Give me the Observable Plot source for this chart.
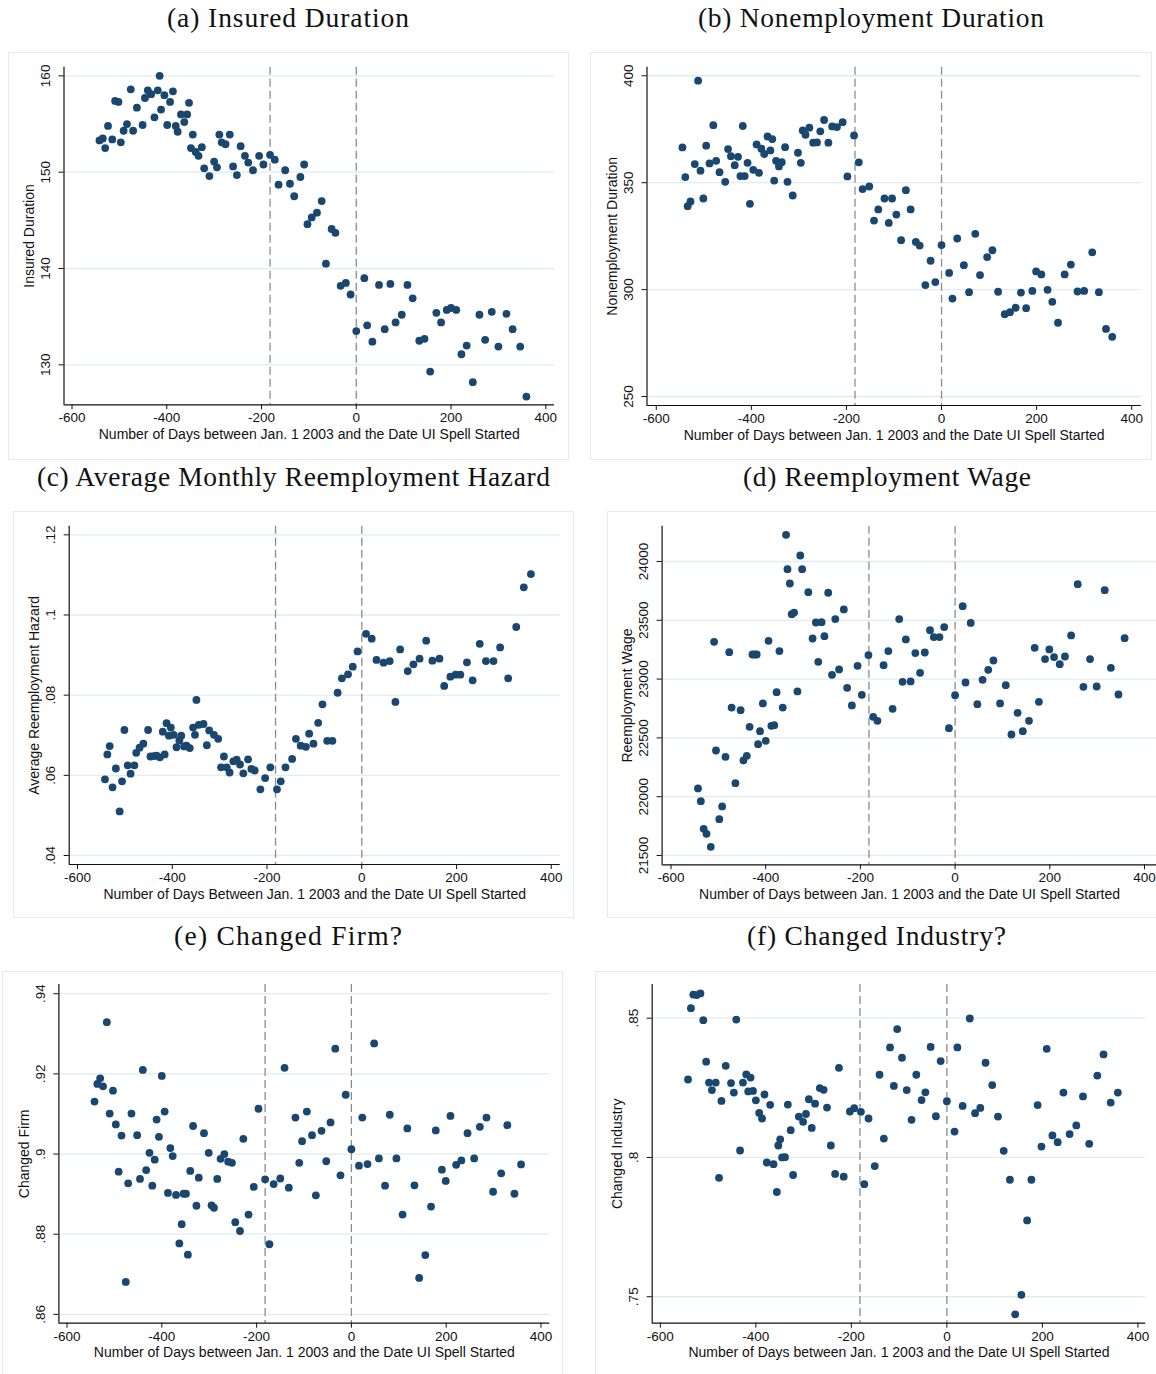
<!DOCTYPE html>
<html>
<head>
<meta charset="utf-8">
<script src="https://cdn.jsdelivr.net/npm/d3@7"></script>
<script src="https://cdn.jsdelivr.net/npm/@observablehq/plot@0.6"></script>
<style>
  body { margin: 0; background: #fff; }
  #root { position: relative; width: 1156px; height: 1374px; overflow: hidden; background: #fff; }
  .box { position: absolute; border: 1px solid #e3ebee; box-sizing: border-box; }
  .panel { position: absolute; }
  .panel svg { display: block; overflow: visible; max-width: none !important; }
  #titles { position: absolute; left: 0; top: 0; }
</style>
</head>
<body>
<div id="root"></div>
<script>
// ---------- data ----------
const xTicks = [-600, -400, -200, 0, 200, 400];
const cutoffs = [-182, 0];

const insuredDays = [-542,-535,-530,-524,-515,-509,-502,-497,-491,-484,-476,-471,-463,-451,-446,-440,-433,-426,-419,-415,-412,-405,-399,-393,-387,-381,-377,-370,-363,-357,-353,-349,-345,-339,-333,-326,-321,-310,-300,-294,-289,-284,-276,-267,-260,-252,-244,-235,-228,-218,-205,-196,-182,-172,-164,-150,-140,-131,-118,-110,-103,-94,-83,-73,-64,-52,-44,-33,-22,-12,0,17,23,34,48,60,72,83,96,108,119,133,144,156,169,179,191,200,211,222,233,246,260,272,286,300,317,330,346,359];
const insuredDuration = [153.3,153.5,152.5,154.8,153.4,157.4,157.3,153.1,154.3,155.0,158.6,154.3,156.7,154.9,157.7,158.5,158.1,155.7,158.5,160.0,156.5,158.0,154.9,157.3,158.4,154.8,154.2,156.0,155.2,156.0,157.2,152.5,153.9,152.1,151.7,152.6,150.4,149.6,151.1,150.5,153.9,153.1,152.9,153.9,150.6,149.7,152.7,151.7,151.0,150.2,151.7,150.8,151.8,151.3,148.7,150.2,148.8,147.5,149.5,150.8,144.6,145.3,145.8,147.0,140.5,144.1,143.7,138.2,138.5,137.3,133.5,139.0,134.1,132.4,138.3,133.7,138.4,134.4,135.2,138.3,136.9,132.5,132.7,129.3,135.4,134.4,135.7,135.9,135.7,131.1,132.0,128.2,135.2,132.6,135.5,131.9,135.3,133.7,131.9,126.7];
const insuredTicks = [130, 140, 150, 160];

const nonempDays = [-545,-539,-534,-528,-519,-512,-507,-501,-495,-488,-480,-474,-467,-455,-449,-443,-435,-428,-423,-418,-414,-408,-403,-396,-389,-384,-379,-373,-366,-360,-356,-352,-348,-342,-336,-329,-324,-313,-302,-296,-292,-286,-278,-270,-262,-255,-247,-238,-230,-220,-208,-198,-184,-174,-166,-152,-142,-133,-120,-111,-104,-95,-85,-75,-65,-54,-46,-34,-23,-13,0,16,23,33,47,58,71,81,96,107,119,133,144,156,167,178,191,199,210,223,233,245,259,272,286,300,317,331,346,359];
const nonempDuration = [366.5,352.6,339.0,341.2,358.7,397.7,355.6,342.6,367.3,359.0,376.9,360.2,354.9,350.4,365.7,362.4,358.2,362.1,353.1,376.5,353.1,359.3,340.1,356.0,367.9,354.6,365.9,363.4,371.6,365.1,370.4,351.0,360.2,357.6,359.6,366.6,350.4,344.0,364.0,359.3,374.4,372.4,375.7,368.7,368.8,374.0,379.3,368.7,376.3,376.0,378.3,352.9,372.1,359.5,347.0,348.2,332.3,337.5,342.6,331.2,342.6,335.1,323.1,346.5,337.5,322.3,320.6,302.1,313.5,303.5,320.8,307.8,295.8,323.9,311.4,298.8,326.1,306.8,315.2,318.4,299.0,288.5,289.4,291.5,298.6,291.3,299.4,308.5,307.1,299.9,294.3,284.5,307.1,311.7,299.1,299.4,317.4,298.8,281.6,277.9];
const nonempTicks = [250, 300, 350, 400];

const hazardDays = [-542,-537,-532,-526,-519,-511,-506,-501,-494,-488,-480,-476,-469,-461,-451,-446,-439,-433,-426,-420,-416,-412,-407,-403,-397,-391,-385,-381,-375,-370,-363,-356,-352,-349,-344,-334,-327,-322,-312,-303,-297,-291,-285,-279,-271,-264,-257,-250,-240,-233,-226,-214,-204,-193,-179,-171,-161,-147,-139,-129,-118,-111,-102,-92,-83,-73,-62,-51,-42,-29,-19,-9,9,21,31,46,59,71,81,97,109,122,136,149,164,174,187,198,208,222,234,249,262,278,292,309,326,342,357];
const hazardRate = [0.0590,0.0652,0.0673,0.0570,0.0617,0.0510,0.0585,0.0713,0.0625,0.0604,0.0625,0.0656,0.0669,0.0679,0.0713,0.0647,0.0648,0.0649,0.0645,0.0709,0.0652,0.0730,0.0699,0.0719,0.0701,0.0670,0.0687,0.0699,0.0672,0.0674,0.0668,0.0719,0.0701,0.0788,0.0726,0.0728,0.0675,0.0712,0.0701,0.0691,0.0620,0.0647,0.0620,0.0607,0.0635,0.0639,0.0627,0.0605,0.0640,0.0616,0.0612,0.0565,0.0593,0.0620,0.0565,0.0585,0.0620,0.0641,0.0691,0.0674,0.0671,0.0704,0.0679,0.0731,0.0777,0.0686,0.0686,0.0806,0.0842,0.0852,0.0871,0.0909,0.0953,0.0941,0.0888,0.0881,0.0885,0.0783,0.0914,0.0860,0.0877,0.0891,0.0936,0.0886,0.0891,0.0823,0.0846,0.0851,0.0851,0.0882,0.0837,0.0928,0.0885,0.0885,0.0919,0.0842,0.0970,0.1069,0.1102];
const hazardTicks = [0.04, 0.06, 0.08, 0.1, 0.12];

const wageDays = [-543,-537,-531,-525,-516,-509,-505,-498,-492,-485,-477,-472,-464,-453,-447,-440,-434,-428,-423,-419,-416,-412,-406,-400,-394,-388,-382,-377,-371,-364,-357,-354,-349,-345,-340,-333,-327,-323,-310,-301,-294,-289,-282,-276,-268,-260,-253,-245,-235,-228,-218,-206,-197,-183,-173,-164,-151,-141,-132,-118,-111,-104,-94,-84,-74,-64,-53,-45,-33,-23,-13,0,16,22,33,47,58,70,81,95,107,119,132,143,156,168,177,190,199,209,221,232,245,259,271,285,299,316,329,345,358];
const reemploymentWage = [22070,21962,21727,21684,21574,23317,22393,21809,21917,22339,23229,22758,22115,22736,22308,22348,22594,23209,23209,23209,22447,22557,22793,22475,23325,22603,22608,22889,23238,22758,24227,23935,23813,23552,23566,22895,24051,23935,23739,23345,23481,23147,23484,23365,23734,23036,23510,23082,23592,22926,22776,23113,22866,23204,22679,22645,23118,23238,22747,23510,22977,23337,22980,23221,23053,23226,23416,23357,23357,23442,22583,22863,23620,22971,23478,22787,22994,23079,23158,22793,22948,22529,22713,22557,22645,23266,22807,23170,23252,23187,23127,23192,23371,23807,22934,23170,22937,23756,23096,22869,23348];
const wageTicks = [21500, 22000, 22500, 23000, 23500, 24000];

const firmDays = [-542,-536,-530,-524,-516,-510,-503,-497,-491,-485,-476,-471,-464,-452,-446,-440,-433,-426,-420,-415,-411,-406,-400,-394,-387,-382,-377,-370,-363,-358,-354,-349,-345,-340,-334,-327,-322,-311,-301,-295,-290,-283,-276,-268,-260,-252,-245,-235,-228,-217,-206,-196,-182,-173,-164,-150,-141,-132,-118,-110,-104,-94,-83,-75,-63,-53,-44,-34,-23,-12,0,16,23,34,48,58,71,81,95,108,118,133,143,156,168,178,191,199,209,221,232,245,259,271,285,299,316,329,344,358];
const changedFirm = [0.9131,0.9175,0.9189,0.9169,0.9329,0.9101,0.9158,0.9074,0.8956,0.9046,0.8681,0.8927,0.9101,0.9047,0.8938,0.9210,0.8960,0.9003,0.8921,0.8986,0.9086,0.9043,0.9195,0.9106,0.8903,0.9015,0.8995,0.8898,0.8777,0.8825,0.8901,0.8901,0.8749,0.8958,0.9070,0.8871,0.8941,0.9052,0.9003,0.8872,0.8866,0.8938,0.8988,0.9000,0.8981,0.8978,0.8830,0.8808,0.9038,0.8849,0.8918,0.9113,0.8937,0.8775,0.8925,0.8939,0.9215,0.8916,0.9091,0.8978,0.9032,0.9106,0.9047,0.8897,0.9058,0.8982,0.9079,0.9263,0.8947,0.9148,0.9012,0.8971,0.9091,0.8975,0.9276,0.8989,0.8921,0.9098,0.8989,0.8849,0.9064,0.8922,0.8691,0.8748,0.8869,0.9059,0.8961,0.8933,0.9095,0.8973,0.8984,0.9052,0.8989,0.9068,0.9091,0.8906,0.8952,0.9072,0.8901,0.8974];
const firmTicks = [0.86, 0.88, 0.9, 0.92, 0.94];

const industryDays = [-542,-536,-531,-524,-516,-510,-504,-498,-492,-484,-477,-472,-463,-452,-446,-441,-433,-427,-420,-416,-411,-406,-400,-393,-387,-382,-377,-370,-363,-356,-353,-349,-345,-339,-333,-327,-322,-310,-301,-295,-289,-283,-276,-266,-258,-251,-243,-234,-226,-216,-203,-194,-180,-173,-164,-151,-141,-132,-119,-111,-104,-94,-84,-74,-64,-53,-45,-34,-23,-13,0,16,22,33,48,59,70,81,95,107,119,132,143,156,168,177,190,198,209,221,232,244,257,271,285,298,315,328,343,358];
const changedIndustry = [0.8280,0.8536,0.8585,0.8583,0.8589,0.8493,0.8344,0.8269,0.8242,0.8269,0.7927,0.8203,0.8329,0.8267,0.8233,0.8495,0.8025,0.8269,0.8298,0.8237,0.8287,0.8239,0.8205,0.8160,0.8140,0.8226,0.7982,0.8189,0.7976,0.7876,0.8043,0.8065,0.8000,0.8001,0.8190,0.8098,0.7937,0.8147,0.8128,0.8156,0.8209,0.8106,0.8193,0.8249,0.8243,0.8179,0.8043,0.7941,0.8322,0.7931,0.8165,0.8177,0.8164,0.7904,0.8140,0.7969,0.8297,0.8068,0.8395,0.8257,0.8461,0.8358,0.8242,0.8135,0.8297,0.8206,0.8234,0.8397,0.8148,0.8346,0.8202,0.8093,0.8395,0.8185,0.8499,0.8159,0.8178,0.8340,0.8260,0.8147,0.8024,0.7920,0.7437,0.7507,0.7774,0.7920,0.8188,0.8039,0.8390,0.8079,0.8055,0.8233,0.8084,0.8115,0.8219,0.8049,0.8294,0.8370,0.8197,0.8233];
const industryTicks = [0.75, 0.8, 0.85];

const xTitle = "Number of Days between Jan. 1 2003 and the Date UI Spell Started";
const xTitleC = "Number of Days Between Jan. 1 2003 and the Date UI Spell Started";

// ---------- layout ----------
const panels = [
  {title: "(a) Insured Duration", tc: 288, tb: 27, tw: 242,
   box: [8, 52, 569, 460], plot: [63.5, 66.7, 554, 404.3],
   xd: [-616.9, 418.4], yd: [125.85, 160.9],
   days: insuredDays, values: insuredDuration, yTicks: insuredTicks,
   yLabel: "Insured Duration", xLabel: xTitle},
  {title: "(b) Nonemployment Duration", tc: 871, tb: 27, tw: 346,
   box: [590, 52, 1152, 460], plot: [646.5, 66.7, 1140.8, 405],
   xd: [-619.5, 420.2], yd: [245.8, 404.0],
   days: nonempDays, values: nonempDuration, yTicks: nonempTicks,
   yLabel: "Nonemployment Duration", xLabel: xTitle},
  {title: "(c) Average Monthly Reemployment Hazard", tc: 293.5, tb: 486, tw: 513,
   box: [13, 511, 574, 918], plot: [68.7, 525.7, 559.7, 864],
   xd: [-617.5, 418.8], yd: [0.03775, 0.12215],
   days: hazardDays, values: hazardRate, yTicks: hazardTicks,
   yLabel: "Average Reemployment Hazard", xLabel: xTitleC},
  {title: "(d) Reemployment Wage", tc: 887, tb: 486, tw: 288,
   box: [607, 511, 1175, 918], plot: [661.6, 525.7, 1156.5, 864.3],
   xd: [-618.8, 426.4], yd: [21421, 24300],
   days: wageDays, values: reemploymentWage, yTicks: wageTicks,
   yLabel: "Reemployment Wage", xLabel: xTitle},
  {title: "(e) Changed Firm?", tc: 288, tb: 945, tw: 228,
   box: [2, 971, 563, 1390], plot: [58.4, 984, 549.3, 1322.7],
   xd: [-617.1, 418.6], yd: [0.8578, 0.9423],
   days: firmDays, values: changedFirm, yTicks: firmTicks,
   yLabel: "Changed Firm", xLabel: xTitle},
  {title: "(f) Changed Industry?", tc: 876.5, tb: 945, tw: 259,
   box: [595, 971, 1170, 1390], plot: [651.7, 984, 1145.2, 1322.7],
   xd: [-617, 416.3], yd: [0.7405, 0.8621],
   days: industryDays, values: changedIndustry, yTicks: industryTicks,
   yLabel: "Changed Industry", xLabel: xTitle}
];

const stataFmt = d => String(d).replace(/^0\./, ".");
const root = document.getElementById("root");

function makePanel(c) {
  const n = Math.min(c.days.length, c.values.length);
  const data = d3.range(n).map(i => ({day: c.days[i], value: c.values[i]}));
  const [bx0, by0, bx1, by1] = c.box;
  const [px0, py0, px1, py1] = c.plot;
  const W = bx1 - bx0, H = by1 - by0;
  const chart = Plot.plot({
    width: W, height: H,
    marginLeft: px0 - bx0, marginTop: py0 - by0,
    marginRight: bx1 - px1, marginBottom: by1 - py1,
    style: {fontFamily: "'Liberation Sans', Arial, sans-serif", fontSize: "14px", color: "#111", background: "transparent", overflow: "visible", maxWidth: "none"},
    x: {domain: c.xd},
    y: {domain: c.yd},
    marks: [
      Plot.ruleY(c.yTicks, {stroke: "#e2ebee", strokeWidth: 1.3}),
      Plot.ruleX(cutoffs, {stroke: "#8c8c8c", strokeWidth: 1.3, strokeDasharray: "8,4"}),
      Plot.dot(data, {x: "day", y: "value", r: 3.9, fill: "#1a476f", stroke: "none"}),
      Plot.axisX(xTicks, {tickSize: 5, tickPadding: 3, fontSize: 13.5, tickFormat: d => String(d), label: null}),
      Plot.axisX({ticks: [], label: c.xLabel, labelAnchor: "center", labelArrow: "none", labelOffset: 34, fontSize: 14}),
      Plot.axisY(c.yTicks, {tickSize: 5, tickPadding: 9, fontSize: 13.5, tickRotate: -90, tickFormat: stataFmt, label: null}),
      Plot.axisY({ticks: [], label: c.yLabel, labelAnchor: "center", labelArrow: "none", labelOffset: 40, fontSize: 14}),
      Plot.ruleX([c.xd[0]], {stroke: "#111", strokeWidth: 1.2}),
      Plot.ruleY([c.yd[0]], {stroke: "#111", strokeWidth: 1.2})
    ]
  });
  chart.style.maxWidth = "none";
  chart.style.width = W + "px";
  chart.style.height = H + "px";
  const border = document.createElement("div");
  border.className = "box";
  Object.assign(border.style, {left: bx0 + "px", top: by0 + "px", width: W + "px", height: H + "px"});
  root.appendChild(border);
  const holder = document.createElement("div");
  holder.className = "panel";
  Object.assign(holder.style, {left: bx0 + "px", top: by0 + "px", width: W + "px", height: H + "px"});
  holder.appendChild(chart);
  root.appendChild(holder);
}

panels.forEach(makePanel);

// ---------- panel titles ----------
const svgNS = "http://www.w3.org/2000/svg";
const tsvg = document.createElementNS(svgNS, "svg");
tsvg.setAttribute("id", "titles");
tsvg.setAttribute("width", 1156);
tsvg.setAttribute("height", 1374);
tsvg.style.pointerEvents = "none";
panels.forEach(c => {
  const t = document.createElementNS(svgNS, "text");
  t.setAttribute("x", c.tc - c.tw / 2);
  t.setAttribute("y", c.tb);
  t.setAttribute("textLength", c.tw);
  t.setAttribute("lengthAdjust", "spacing");
  t.setAttribute("font-family", "'Liberation Serif', 'Times New Roman', serif");
  t.setAttribute("font-size", "27.5");
  t.setAttribute("fill", "#111");
  t.textContent = c.title;
  tsvg.appendChild(t);
});
root.appendChild(tsvg);
</script>
</body>
</html>
